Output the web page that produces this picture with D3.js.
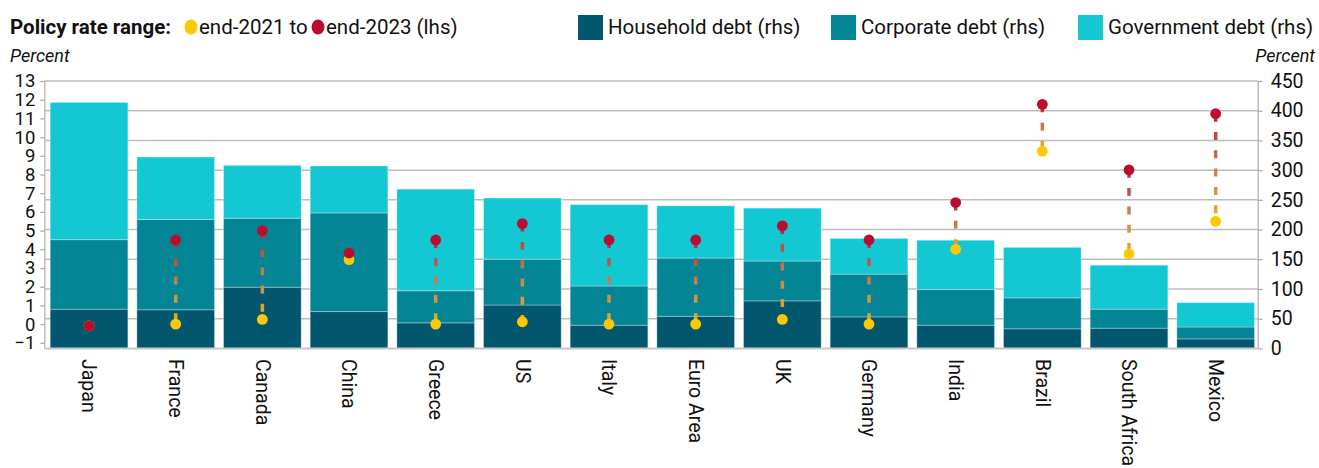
<!DOCTYPE html>
<html>
<head>
<meta charset="utf-8">
<script src="https://cdn.jsdelivr.net/npm/d3@7"></script>
<style>
  body { margin: 0; background: #fff; }
  svg { display: block; font-family: Roboto, "Liberation Sans", Arial, sans-serif; }
</style>
</head>
<body>
<svg id="chart" width="1319" height="468"></svg>
<script>
// debt is % of GDP (rhs), policy rates in percent (lhs)
var countries = ["Japan", "France", "Canada", "China", "Greece", "US", "Italy", "Euro Area", "UK", "Germany", "India", "Brazil", "South Africa", "Mexico"];
var householdDebt = [66, 65, 103, 62, 43, 73, 39, 54, 80, 53, 39, 33, 34, 16];
var corporateDebt = [117, 152, 116, 166, 54, 77, 66, 98, 67, 72, 60, 52, 32, 20];
var governmentDebt = [231, 105, 89, 79, 171, 103, 137, 88, 89, 60, 83, 85, 74, 41];
var rateEnd2021 = [-0.1, 0, 0.25, 3.45, 0, 0.125, 0, 0, 0.25, 0, 4.0, 9.25, 3.75, 5.5];
var rateEnd2023 = [-0.1, 4.5, 5.0, 3.8, 4.5, 5.375, 4.5, 4.5, 5.25, 4.5, 6.5, 11.75, 8.25, 11.25];
var leftTicks = [-1, 0, 1, 2, 3, 4, 5, 6, 7, 8, 9, 10, 11, 12, 13];
var rightTicks = [0, 50, 100, 150, 200, 250, 300, 350, 400, 450];

var colors = { household: "#02576f", corporate: "#038596", government: "#13c7d3" };
var red = "#ba0c2f", yellow = "#fdc900";

var svg = d3.select("#chart");
var axisLeftX = 44.3, axisRightX = 1257.7;
var plotTop = 81, plotBottom = 348.4;

var x = d3.scaleBand().domain(countries).range([45.7, 1259]).paddingInner(0.104).paddingOuter(0.052);
var yR = d3.scaleLinear().domain([0, 450]).range([plotBottom, plotTop]);
var yL = d3.scaleLinear().domain([-1.3, 13]).range([plotBottom, plotTop]);

// grid
svg.append("g").selectAll("line")
  .data(rightTicks.slice(1))
  .enter().append("line")
  .attr("x1", axisLeftX).attr("x2", axisRightX)
  .attr("y1", function (d) { return yR(d); })
  .attr("y2", function (d) { return yR(d); })
  .attr("stroke", "#bdbdbd").attr("stroke-width", 1.5);

// stacked bars
var rows = countries.map(function (c, i) {
  return { country: c, household: householdDebt[i], corporate: corporateDebt[i], government: governmentDebt[i] };
});
var stack = d3.stack().keys(["household", "corporate", "government"])(rows);

svg.append("g").selectAll("g")
  .data(stack)
  .enter().append("g")
  .attr("fill", function (d) { return colors[d.key]; })
  .selectAll("rect")
  .data(function (d) { return d; })
  .enter().append("rect")
  .attr("x", function (d) { return x(d.data.country); })
  .attr("width", x.bandwidth())
  .attr("y", function (d) { return yR(d[1]); })
  .attr("height", function (d) { return yR(d[0]) - yR(d[1]); })
  .attr("stroke", "rgba(255,255,255,0.3)")
  .attr("stroke-width", 1);

// axes
var gl = svg.append("g").attr("transform", "translate(" + axisLeftX + ",0)")
  .call(d3.axisLeft(yL).tickValues(leftTicks).tickSize(4).tickPadding(5).tickSizeOuter(0));
var gr = svg.append("g").attr("transform", "translate(" + axisRightX + ",0)")
  .call(d3.axisRight(yR).tickValues(rightTicks).tickSize(5).tickPadding(8).tickSizeOuter(0));
[gl, gr].forEach(function (g) {
  g.select(".domain").attr("stroke", "#bdbdbd").attr("stroke-width", 1.5);
  g.selectAll(".tick line").attr("stroke", "#a8a8a8").attr("stroke-width", 1.2);
  g.selectAll(".tick text").attr("fill", "#111").style("font-family", "Roboto, sans-serif");
});
gl.selectAll(".tick text").style("font-size", "18.5px");
gr.selectAll(".tick text").style("font-size", "19.5px");

svg.append("line")
  .attr("x1", axisLeftX).attr("x2", axisRightX)
  .attr("y1", plotBottom).attr("y2", plotBottom)
  .attr("stroke", "#c8c8c8").attr("stroke-width", 2);

// category labels
svg.append("g").selectAll("text")
  .data(countries)
  .enter().append("text")
  .attr("transform", function (d) { return "translate(" + (x(d) + x.bandwidth() / 2) + ",359) rotate(90)"; })
  .attr("dy", "0.35em")
  .style("font-size", "19.5px")
  .attr("fill", "#111")
  .text(function (d) { return d; });

// policy rate ranges
var defs = svg.append("defs");
var rates = countries.map(function (c, i) {
  return { country: c, i: i, from: rateEnd2021[i], to: rateEnd2023[i] };
});

rates.forEach(function (d) {
  defs.append("linearGradient")
    .attr("id", "grad" + d.i)
    .attr("gradientUnits", "userSpaceOnUse")
    .attr("x1", 0).attr("x2", 0)
    .attr("y1", yL(d.to)).attr("y2", yL(d.from))
    .call(function (g) {
      g.append("stop").attr("offset", 0).attr("stop-color", "#b5233c");
      g.append("stop").attr("offset", 0.5).attr("stop-color", "#c8804e");
      g.append("stop").attr("offset", 1).attr("stop-color", "#eaae26");
    });
});

var cx = function (d) { return x(d.country) + x.bandwidth() / 2; };

svg.append("g").selectAll("line")
  .data(rates)
  .enter().append("line")
  .attr("x1", cx).attr("x2", cx)
  .attr("y1", function (d) { return yL(d.to); })
  .attr("y2", function (d) { return yL(d.from); })
  .attr("stroke", function (d) { return "url(#grad" + d.i + ")"; })
  .attr("stroke-width", 3.5)
  .attr("stroke-dasharray", "8,10.3");

svg.append("g").selectAll("circle")
  .data(rates)
  .enter().append("circle")
  .attr("cx", cx)
  .attr("cy", function (d) { return yL(d.from); })
  .attr("r", 5.4)
  .attr("fill", yellow);

svg.append("g").selectAll("circle")
  .data(rates)
  .enter().append("circle")
  .attr("cx", cx)
  .attr("cy", function (d) { return yL(d.to); })
  .attr("r", 5.4)
  .attr("fill", red);

// legend
var legend = svg.append("g").style("font-size", "20.5px").attr("fill", "#111");
var lt = legend.append("text").attr("x", 10).attr("y", 27).attr("dy", "0.35em");
lt.append("tspan").attr("font-weight", "bold").text("Policy rate range: ");
legend.append("ellipse").attr("cx", 191).attr("cy", 27).attr("rx", 6.5).attr("ry", 7.5).attr("fill", yellow);
legend.append("text").attr("x", 199).attr("y", 27).attr("dy", "0.35em").text("end-2021 to");
legend.append("ellipse").attr("cx", 318).attr("cy", 27).attr("rx", 6.5).attr("ry", 7.5).attr("fill", red);
legend.append("text").attr("x", 326).attr("y", 27).attr("dy", "0.35em").text("end-2023 (lhs)");

var debtLegend = [
  { key: "household", label: "Household debt (rhs)", x: 578 },
  { key: "corporate", label: "Corporate debt (rhs)", x: 831 },
  { key: "government", label: "Government debt (rhs)", x: 1078 }
];
var items = legend.selectAll(".item")
  .data(debtLegend)
  .enter().append("g")
  .attr("transform", function (d) { return "translate(" + d.x + ",0)"; });
items.append("rect").attr("y", 15).attr("width", 25).attr("height", 25)
  .attr("fill", function (d) { return colors[d.key]; });
items.append("text").attr("x", 30).attr("y", 27).attr("dy", "0.35em")
  .text(function (d) { return d.label; });

// axis titles
svg.append("text").attr("x", 10).attr("y", 56).attr("dy", "0.35em")
  .style("font-size", "18px").style("font-style", "italic").attr("fill", "#111").text("Percent");
svg.append("text").attr("x", 1315).attr("y", 56).attr("dy", "0.35em").attr("text-anchor", "end")
  .style("font-size", "18px").style("font-style", "italic").attr("fill", "#111").text("Percent");
</script>
</body>
</html>
